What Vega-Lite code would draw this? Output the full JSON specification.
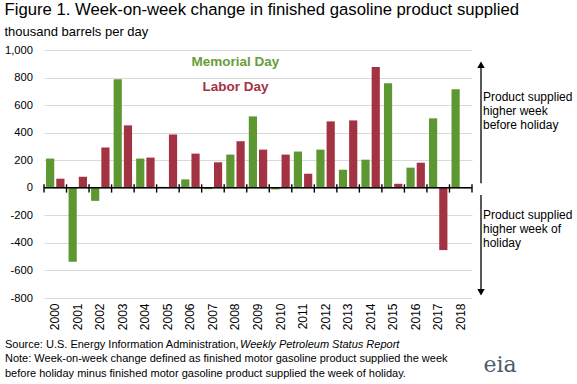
{
  "$schema": "https://vega.github.io/schema/vega-lite/v6.json",
  "padding": {"left": 4, "top": 2, "right": 2, "bottom": 2},
  "background": "white",
  "config": {
    "font": "Liberation Sans",
    "view": {"stroke": null},
    "axisX": {"labelAngle": -90, "ticks": false, "domain": false, "grid": false, "labelPadding": 5, "labelFontSize": 12, "labelColor": "black", "labelFont": "Liberation Sans", "labelBaseline": "middle", "labelOverlap": false},
    "axisY": {"ticks": false, "domain": false, "grid": true, "gridColor": "#d9d9d9", "gridWidth": 1, "labelPadding": 11.5, "labelFontSize": 11.2, "labelColor": "black", "labelFont": "Liberation Sans", "labelOverlap": false, "tickCount": 10},
    "concat": {"spacing": 0}
  },
  "title": {
    "text": "Figure 1. Week-on-week change in finished gasoline product supplied",
    "subtitle": "thousand barrels per day",
    "anchor": "start",
    "frame": "bounds",
    "font": "Liberation Sans",
    "fontSize": 16.7,
    "fontWeight": "normal",
    "color": "black",
    "subtitleFont": "Liberation Sans",
    "subtitleFontSize": 13,
    "subtitleColor": "black",
    "subtitlePadding": 7,
    "offset": 5
  },
  "datasets": {
    "gas": [
      {"year": "2000", "holiday": "Memorial Day", "value": 212},
      {"year": "2000", "holiday": "Labor Day", "value": 66},
      {"year": "2001", "holiday": "Memorial Day", "value": -537},
      {"year": "2001", "holiday": "Labor Day", "value": 80},
      {"year": "2002", "holiday": "Memorial Day", "value": -95},
      {"year": "2002", "holiday": "Labor Day", "value": 292},
      {"year": "2003", "holiday": "Memorial Day", "value": 788},
      {"year": "2003", "holiday": "Labor Day", "value": 453},
      {"year": "2004", "holiday": "Memorial Day", "value": 212},
      {"year": "2004", "holiday": "Labor Day", "value": 219},
      {"year": "2005", "holiday": "Memorial Day", "value": 7},
      {"year": "2005", "holiday": "Labor Day", "value": 387},
      {"year": "2006", "holiday": "Memorial Day", "value": 61},
      {"year": "2006", "holiday": "Labor Day", "value": 248},
      {"year": "2007", "holiday": "Memorial Day", "value": -10},
      {"year": "2007", "holiday": "Labor Day", "value": 185},
      {"year": "2008", "holiday": "Memorial Day", "value": 241},
      {"year": "2008", "holiday": "Labor Day", "value": 338},
      {"year": "2009", "holiday": "Memorial Day", "value": 518},
      {"year": "2009", "holiday": "Labor Day", "value": 277},
      {"year": "2010", "holiday": "Memorial Day", "value": -12},
      {"year": "2010", "holiday": "Labor Day", "value": 241},
      {"year": "2011", "holiday": "Memorial Day", "value": 263},
      {"year": "2011", "holiday": "Labor Day", "value": 102},
      {"year": "2012", "holiday": "Memorial Day", "value": 277},
      {"year": "2012", "holiday": "Labor Day", "value": 482},
      {"year": "2013", "holiday": "Memorial Day", "value": 131},
      {"year": "2013", "holiday": "Labor Day", "value": 489},
      {"year": "2014", "holiday": "Memorial Day", "value": 204},
      {"year": "2014", "holiday": "Labor Day", "value": 876},
      {"year": "2015", "holiday": "Memorial Day", "value": 759},
      {"year": "2015", "holiday": "Labor Day", "value": 29},
      {"year": "2016", "holiday": "Memorial Day", "value": 146},
      {"year": "2016", "holiday": "Labor Day", "value": 182},
      {"year": "2017", "holiday": "Memorial Day", "value": 504},
      {"year": "2017", "holiday": "Labor Day", "value": -452},
      {"year": "2018", "holiday": "Memorial Day", "value": 715}
    ]
  },
  "vconcat": [
    {
      "hconcat": [
        {
          "width": 428,
          "height": 248,
          "data": {"name": "gas"},
          "layer": [
            {
              "mark": {"type": "bar"},
              "encoding": {
                "x": {"field": "year", "type": "nominal", "title": null, "scale": {"paddingInner": 0, "paddingOuter": 0}},
                "xOffset": {"field": "holiday", "type": "nominal", "scale": {"domain": ["Memorial Day", "Labor Day"], "paddingInner": 0.2, "paddingOuter": 0.2}},
                "y": {"field": "value", "type": "quantitative", "title": null, "scale": {"domain": [-800, 1000], "nice": false}, "axis": {"values": [-800, -600, -400, -200, 0, 200, 400, 600, 800, 1000], "tickCount": 10, "labelOverlap": false, "labelExpr": "replace(datum.label, '\u2212', '-')"}},
                "color": {"field": "holiday", "type": "nominal", "scale": {"domain": ["Memorial Day", "Labor Day"], "range": ["#5D9732", "#A33343"]}, "legend": null}
              }
            },
            {
              "data": {"values": [{}]},
              "mark": {"type": "rule", "color": "black", "strokeWidth": 1.4},
              "encoding": {"y": {"datum": 0, "title": null, "axis": {"values": [-800, -600, -400, -200, 0, 200, 400, 600, 800, 1000], "tickCount": 10, "labelOverlap": false, "labelExpr": "replace(datum.label, '\u2212', '-')"}}}
            },
            {
              "transform": [{"filter": "datum.holiday === 'Memorial Day'"}],
              "mark": {"type": "rule", "color": "black", "strokeWidth": 1.4},
              "encoding": {
                "x": {"field": "year", "type": "nominal", "title": null, "bandPosition": 0},
                "y": {"datum": 25, "title": null, "axis": {"values": [-800, -600, -400, -200, 0, 200, 400, 600, 800, 1000], "tickCount": 10, "labelOverlap": false, "labelExpr": "replace(datum.label, '\u2212', '-')"}},
                "y2": {"datum": -35}
              }
            },
            {
              "transform": [{"filter": "datum.year === '2018'"}],
              "mark": {"type": "rule", "color": "black", "strokeWidth": 1.4},
              "encoding": {
                "x": {"field": "year", "type": "nominal", "title": null, "bandPosition": 1},
                "y": {"datum": 25, "title": null, "axis": {"values": [-800, -600, -400, -200, 0, 200, 400, 600, 800, 1000], "tickCount": 10, "labelOverlap": false, "labelExpr": "replace(datum.label, '\u2212', '-')"}},
                "y2": {"datum": -35}
              }
            },
            {
              "data": {"values": [{}]},
              "mark": {"type": "text", "fontSize": 13.5, "fontWeight": "bold", "color": "#6A9C3A", "align": "center", "baseline": "middle"},
              "encoding": {
                "x": {"datum": "2008", "type": "nominal", "title": null},
                "y": {"datum": 910, "title": null, "axis": {"values": [-800, -600, -400, -200, 0, 200, 400, 600, 800, 1000], "tickCount": 10, "labelOverlap": false, "labelExpr": "replace(datum.label, '\u2212', '-')"}},
                "text": {"value": "Memorial Day"}
              }
            },
            {
              "data": {"values": [{}]},
              "mark": {"type": "text", "fontSize": 13.5, "fontWeight": "bold", "color": "#A33343", "align": "center", "baseline": "middle"},
              "encoding": {
                "x": {"datum": "2008", "type": "nominal", "title": null},
                "y": {"datum": 735, "title": null, "axis": {"values": [-800, -600, -400, -200, 0, 200, 400, 600, 800, 1000], "tickCount": 10, "labelOverlap": false, "labelExpr": "replace(datum.label, '\u2212', '-')"}},
                "text": {"value": "Labor Day"}
              }
            }
          ]
        },
        {
          "width": 100,
          "height": 248,
          "data": {"values": [{}]},
          "layer": [
            {
              "mark": {"type": "rule", "color": "black", "strokeWidth": 1.3},
              "encoding": {
                "x": {"datum": 8, "type": "quantitative", "scale": {"domain": [0, 100], "nice": false}, "axis": null},
                "y": {"datum": 33, "type": "quantitative", "scale": {"domain": [-800, 1000], "nice": false}, "axis": null},
                "y2": {"datum": 890}
              }
            },
            {
              "mark": {"type": "rule", "color": "black", "strokeWidth": 1.3},
              "encoding": {
                "x": {"datum": 8, "type": "quantitative"},
                "y": {"datum": -52, "type": "quantitative"},
                "y2": {"datum": -760}
              }
            },
            {
              "mark": {"type": "point", "shape": "triangle-up", "filled": true, "color": "black", "size": 55, "opacity": 1},
              "encoding": {
                "x": {"datum": 8, "type": "quantitative"},
                "y": {"datum": 893, "type": "quantitative"}
              }
            },
            {
              "mark": {"type": "point", "shape": "triangle-down", "filled": true, "color": "black", "size": 55, "opacity": 1},
              "encoding": {
                "x": {"datum": 8, "type": "quantitative"},
                "y": {"datum": -758, "type": "quantitative"}
              }
            },
            {
              "mark": {"type": "text", "fontSize": 12, "align": "left", "baseline": "top", "lineHeight": 14, "color": "black"},
              "encoding": {
                "x": {"datum": 10, "type": "quantitative"},
                "y": {"datum": 695, "type": "quantitative"},
                "text": {"value": ["Product supplied", "higher week", "before holiday"]}
              }
            },
            {
              "mark": {"type": "text", "fontSize": 12, "align": "left", "baseline": "top", "lineHeight": 14, "color": "black"},
              "encoding": {
                "x": {"datum": 10, "type": "quantitative"},
                "y": {"datum": -158, "type": "quantitative"},
                "text": {"value": ["Product supplied", "higher week of", "holiday"]}
              }
            }
          ]
        }
      ]
    },
    {
      "width": 530,
      "height": 46,
      "data": {"values": [{}]},
      "layer": [
        {
          "mark": {"type": "text", "fontSize": 11, "align": "left", "baseline": "middle", "color": "black"},
          "encoding": {
            "x": {"datum": -39, "type": "quantitative", "scale": {"domain": [0, 530], "nice": false}, "axis": null},
            "y": {"datum": 15, "type": "quantitative", "scale": {"domain": [0, 46], "nice": false, "reverse": true}, "axis": null},
            "text": {"value": "Source: U.S. Energy Information Administration, "}
          }
        },
        {
          "mark": {"type": "text", "fontSize": 11, "fontStyle": "italic", "align": "left", "baseline": "middle", "color": "black"},
          "encoding": {
            "x": {"datum": 196, "type": "quantitative"},
            "y": {"datum": 15, "type": "quantitative"},
            "text": {"value": "Weekly Petroleum Status Report"}
          }
        },
        {
          "mark": {"type": "text", "fontSize": 11, "align": "left", "baseline": "middle", "color": "black"},
          "encoding": {
            "x": {"datum": -39, "type": "quantitative"},
            "y": {"datum": 29, "type": "quantitative"},
            "text": {"value": "Note: Week-on-week change defined as finished motor gasoline product supplied the week"}
          }
        },
        {
          "mark": {"type": "text", "fontSize": 11, "align": "left", "baseline": "middle", "color": "black"},
          "encoding": {
            "x": {"datum": -39, "type": "quantitative"},
            "y": {"datum": 44, "type": "quantitative"},
            "text": {"value": "before holiday minus finished motor gasoline product supplied the week of holiday."}
          }
        },
        {
          "mark": {"type": "text", "fontSize": 22, "font": "DejaVu Serif", "align": "center", "baseline": "middle", "color": "#4d5c6b"},
          "encoding": {
            "x": {"datum": 456, "type": "quantitative"},
            "y": {"datum": 35, "type": "quantitative"},
            "text": {"value": "eia"}
          }
        }
      ]
    }
  ]
}
